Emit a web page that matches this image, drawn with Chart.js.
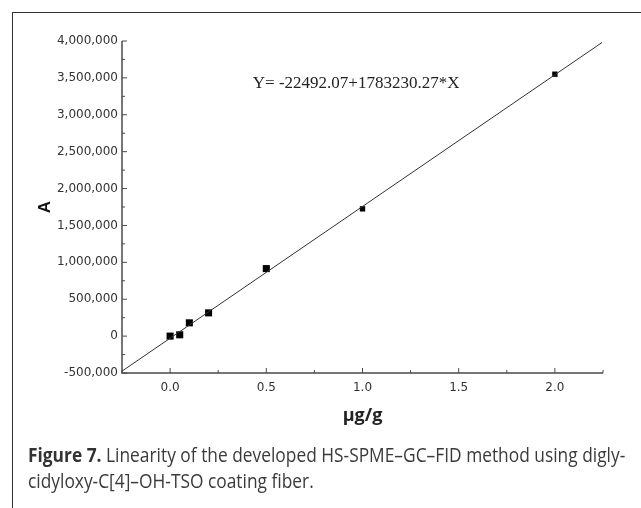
<!DOCTYPE html>
<html>
<head>
<meta charset="utf-8">
<title>Figure 7</title>
<script src="https://cdn.jsdelivr.net/npm/chart.js@4.4.0/dist/chart.umd.min.js"></script>
<style>
  html, body { margin: 0; padding: 0; background: #fff; }
  #wrap { position: relative; width: 641px; height: 508px; overflow: hidden; }
  #frame {
    position: absolute; left: 12px; top: 12px; right: -10px; bottom: -10px;
    border-top: 1.5px solid #333; border-left: 1.5px solid #333;
  }
  #chart { position: absolute; left: 0; top: 0; }
  #caption {
    position: absolute; left: 28px; top: 442px;
    font-family: "Open Sans", "Noto Sans", sans-serif; font-size: 19.5px;
    line-height: 26px; color: #3a3a3a; white-space: nowrap;
    transform-origin: 0 0;
  }
  #caption b { font-weight: 700; color: #333; }
</style>
</head>
<body>
<div id="wrap">
  <div id="frame"></div>
  <canvas id="chart" width="641" height="508"></canvas>
  <div id="caption">
    <div id="cap1"><b>Figure 7.</b> Linearity of the developed HS-SPME–GC–FID method using digly-</div>
    <div>cidyloxy-C[4]–OH-TSO coating fiber.</div>
  </div>
</div>
<script>
// measured points (concentration μg/g vs peak area A)
const concX = [0, 0.05, 0.1, 0.2, 0.5, 1.0, 2.0];
const areaY = [0, 18000, 180000, 315000, 915000, 1725000, 3550000];

// ends of the fitted line as drawn
const fitX = [-0.25, 2.245];
const fitY = [-475000, 3980000];

const xTicks = [0, 0.5, 1.0, 1.5, 2.0];
const xMinorTicks = [-0.25, 0.25, 0.75, 1.25, 1.75, 2.25];
const yTicks = [-500000, 0, 500000, 1000000, 1500000, 2000000, 2500000, 3000000, 3500000, 4000000];
const yMinorTicks = [-250000, 250000, 750000, 1250000, 1750000, 2250000, 2750000, 3250000, 3750000];

const equationText = 'Y= -22492.07+1783230.27*X';

const axisColor = '#4a4a4a';

// axis lines plus inward major/minor ticks
const axisPlugin = {
  id: 'axisTicks',
  afterDatasetsDraw(chart) {
    const { ctx, chartArea, scales } = chart;
    const xs = scales.x, ys = scales.y;
    ctx.save();
    ctx.strokeStyle = axisColor;
    ctx.lineWidth = 1.5;
    ctx.beginPath();
    ctx.moveTo(chartArea.left, chartArea.top);
    ctx.lineTo(chartArea.left, chartArea.bottom);
    ctx.lineTo(chartArea.right, chartArea.bottom);
    ctx.stroke();

    ctx.lineWidth = 1;
    ctx.beginPath();
    xTicks.forEach(v => {
      const px = xs.getPixelForValue(v);
      ctx.moveTo(px, chartArea.bottom);
      ctx.lineTo(px, chartArea.bottom - 5);
    });
    xMinorTicks.forEach(v => {
      const px = xs.getPixelForValue(v);
      ctx.moveTo(px, chartArea.bottom);
      ctx.lineTo(px, chartArea.bottom - 3);
    });
    yTicks.forEach(v => {
      const py = ys.getPixelForValue(v);
      ctx.moveTo(chartArea.left, py);
      ctx.lineTo(chartArea.left + 5, py);
    });
    yMinorTicks.forEach(v => {
      const py = ys.getPixelForValue(v);
      ctx.moveTo(chartArea.left, py);
      ctx.lineTo(chartArea.left + 3, py);
    });
    ctx.stroke();

    // regression equation
    ctx.fillStyle = '#222';
    ctx.font = '17px "Liberation Serif", "DejaVu Serif", serif';
    ctx.textAlign = 'left';
    ctx.textBaseline = 'middle';
    ctx.fillText(equationText, xs.getPixelForValue(0.43), ys.getPixelForValue(3430000));
    ctx.restore();
  }
};

new Chart(document.getElementById('chart'), {
  type: 'scatter',
  data: {
    datasets: [
      {
        label: 'fit',
        data: fitX.map((x, i) => ({ x: x, y: fitY[i] })),
        showLine: true,
        borderColor: '#333',
        borderWidth: 1,
        pointRadius: 0
      },
      {
        label: 'A',
        data: concX.map((x, i) => ({ x: x, y: areaY[i] })),
        pointStyle: 'rect',
        pointRadius: [5, 5, 5, 5, 5, 3.8, 3.8],
        backgroundColor: '#000',
        borderColor: '#000',
        borderWidth: 0
      }
    ]
  },
  options: {
    responsive: false,
    animation: false,
    layout: { padding: { left: 0, right: 38, top: 41, bottom: 75 } },
    plugins: { legend: { display: false }, tooltip: { enabled: false } },
    scales: {
      x: {
        type: 'linear',
        min: -0.25,
        max: 2.25,
        grid: { display: false, drawTicks: false },
        border: { display: false },
        afterBuildTicks: s => { s.ticks = xTicks.map(v => ({ value: v })); },
        afterFit: s => { s.height = 60; },
        ticks: {
          color: '#333',
          padding: 8,
          font: { family: 'DejaVu Sans', size: 12 },
          callback: v => Number(v).toFixed(1)
        },
        title: {
          display: true,
          text: 'μg/g',
          color: '#222',
          font: { family: '"Open Sans", sans-serif', size: 18, weight: 'bold' },
          padding: { top: 0, bottom: 6 }
        }
      },
      y: {
        type: 'linear',
        min: -500000,
        max: 4000000,
        grid: { display: false, drawTicks: false },
        border: { display: false },
        afterBuildTicks: s => { s.ticks = yTicks.map(v => ({ value: v })); },
        afterFit: s => { s.width = 122; },
        ticks: {
          color: '#333',
          padding: 4,
          font: { family: 'DejaVu Sans', size: 12 },
          callback: v => Number(v).toLocaleString('en-US')
        },
        title: {
          display: true,
          text: 'A',
          color: '#111',
          font: { family: '"Liberation Sans", Arial, sans-serif', size: 17, weight: 'bold' },
          padding: { top: 35, bottom: 0 }
        }
      }
    }
  },
  plugins: [axisPlugin]
});

// squeeze caption to the narrow width of the original typeface
const cap = document.getElementById('caption');
const line1 = document.getElementById('cap1');
const k = 597 / line1.scrollWidth;
cap.style.transform = 'scaleX(' + k + ')';
</script>
</body>
</html>
